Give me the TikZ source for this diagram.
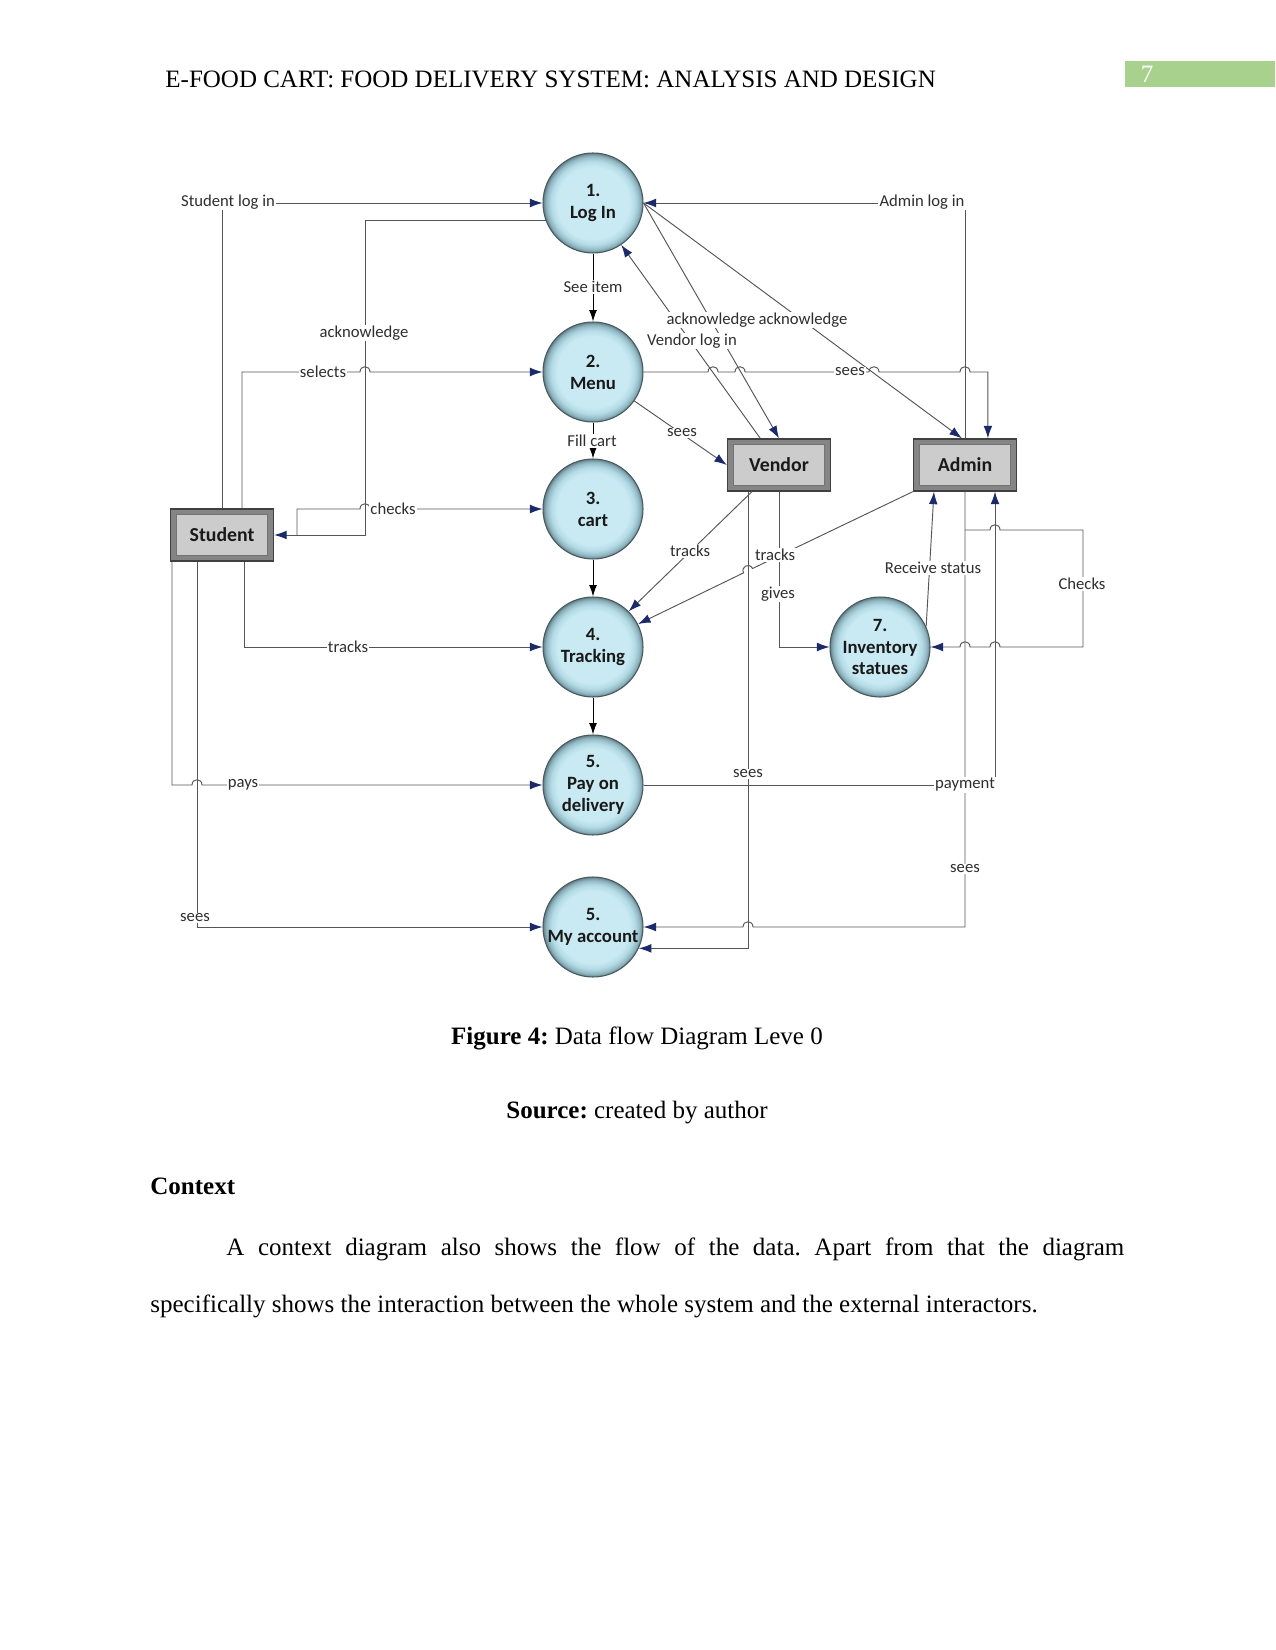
\documentclass[tikz,border=0pt]{standalone}
\usepackage{fontspec}
\setmainfont{Liberation Serif}
\newfontfamily\calfont{Carlito}
\usetikzlibrary{arrows.meta,calc}
\frenchspacing
\definecolor{tipblue}{HTML}{1B2A6B}
\definecolor{linegray}{HTML}{555555}
\definecolor{txtgray}{HTML}{2E2E2E}
\definecolor{bubA}{HTML}{C9EAF2}
\definecolor{bubB}{HTML}{B3DBE6}
\definecolor{bubC}{HTML}{8FB5C0}
\definecolor{bubD}{HTML}{647F88}
\definecolor{pagegreen}{HTML}{A9D18E}
\pgfdeclareradialshading{bubble}{\pgfpoint{0bp}{0bp}}{color(0bp)=(bubA); color(18bp)=(bubA); color(21bp)=(bubB); color(23.5bp)=(bubC); color(25bp)=(bubD); color(50bp)=(bubD)}
\tikzset{
  proc/.style={circle, minimum size=48pt, inner sep=0pt, shading=bubble, draw=bubD!70!black, line width=0.5pt, align=center, font=\calfont\bfseries\fontsize{9}{10.5}\selectfont, text=black!90},
  ent/.style={rectangle, minimum width=49.5pt, minimum height=25pt, inner sep=0pt, fill=black!48, draw=black!75, line width=0.6pt, font=\calfont\bfseries\fontsize{9.5}{11}\selectfont, text=black!90,
    path picture={\fill[black!20] ([shift={(2.8pt,2.8pt)}]path picture bounding box.south west) rectangle ([shift={(-2.8pt,-2.8pt)}]path picture bounding box.north east);
      \draw[black!55,line width=0.4pt] ([shift={(2.8pt,2.8pt)}]path picture bounding box.south west) rectangle ([shift={(-2.8pt,-2.8pt)}]path picture bounding box.north east);}},
  flow/.style={draw=linegray, line width=0.45pt, -{Latex[length=6pt,width=4.2pt,color=tipblue]}},
  bflow/.style={draw=black, line width=0.45pt, -{Latex[length=5.5pt,width=3.8pt,color=black]}},
  lab/.style={fill=white, inner sep=0.6pt, font=\calfont\fontsize{8}{9}\selectfont, text=txtgray},
  body/.style={font=\fontsize{12}{14}\selectfont, inner sep=0pt},
}
\begin{document}
\begin{tikzpicture}[x=0.48pt, y=-0.48pt]
\useasboundingbox (0,0) rectangle (1275,1650);
\fill[white] (0,0) rectangle (1275,1650);

% header
\node[body, anchor=base west] (hdr) at (165,88) {E-FOOD CART: FOOD DELIVERY SYSTEM: ANALYSIS AND DESIGN};
\fill[pagegreen] (1125,61) rectangle (1275,87);
\node[body, text=white] (pnum) at (1147,74) {7};

% processes
\node[proc] (login) at (593,203) {1.\\Log In};
\node[proc] (menu) at (593,372) {2.\\Menu};
\node[proc] (cart) at (593,509) {3.\\cart};
\node[proc] (track) at (593,647) {4.\\Tracking};
\node[proc] (pay) at (593,785) {5.\\Pay on\\delivery};
\node[proc] (acct) at (593,927) {5.\\My account};
\node[proc] (inv) at (880,647) {7.\\Inventory\\statues};

% entities
\node[ent] (student) at (222,535) {Student};
\node[ent] (vendor) at (779,465) {Vendor};
\node[ent] (admin) at (965,465) {Admin};

% helper coordinates
\coordinate (chk) at (297,535);
\coordinate (ck) at (965,530);

% student flows
\draw[flow] (student.north) |- (login.west);
\draw[flow] (login.200) -| (365,535) -- (student.east);
\draw[flow] ([xshift=9.6pt]student.north) |- (360,372) .. controls (360,365) and (370,365) .. (370,372) -- (menu.west);
\draw[flow] (chk) |- (360,509) .. controls (360,502) and (370,502) .. (370,509) -- (cart.west);
\draw[flow] ([xshift=10.6pt]student.south) |- (track.west);
\draw[flow] ([xshift=-24pt]student.south) |- (192,785) .. controls (192,778) and (202,778) .. (202,785) -- (pay.west);
\draw[flow] ([xshift=-12pt]student.south) |- (acct.west);

% vertical chain
\draw[bflow] (login.south) -- (menu.north);
\draw[bflow] (menu.south) -- (cart.north);
\draw[bflow] (cart.south) -- (track.north);
\draw[bflow] (track.south) -- (pay.north);

% admin / vendor with login
\draw[flow] (admin.north) |- (login.east);
\draw[flow] ([xshift=-9pt]vendor.north) -- (login.-56);
\draw[flow] (login.east) -- (vendor.north);
\draw[flow] (login.east) -- ([xshift=-1.5pt]admin.north);

% menu sees admin
\draw[flow] (menu.east) -- (708,372) .. controls (708,365) and (718,365) .. (718,372)
  -- (735,372) .. controls (735,365) and (745,365) .. (745,372)
  -- (869,372) .. controls (869,365) and (879,365) .. (879,372)
  -- (960,372) .. controls (960,365) and (970,365) .. (970,372)
  -| ([xshift=11pt]admin.north);
\draw[flow] (menu.-35) -- (vendor.west);

% tracking
\draw[flow] ([xshift=-13pt]vendor.south) -- (track.45);
\draw[flow] (admin.south west) -- (752.5,568.5) .. controls (749.5,562.2) and (740.5,566.6) .. (743.5,572.9) -- (track.27);

% vendor lower flows
\draw[flow] ([xshift=-14.9pt]vendor.south) |- (acct.-25);
\draw[flow] (vendor.south) |- (inv.west);

% admin lower flows
\draw[flow] (admin.south) -- (965,927) -- (753,927) .. controls (753,920) and (743,920) .. (743,927) -- (acct.east);
\draw[flow] (inv.24) -- ([xshift=-14.9pt]admin.south);
\draw[flow] (pay.east) -| ([xshift=14.4pt]admin.south);
\draw[flow] (ck) -- (990,530) .. controls (990,523) and (1000,523) .. (1000,530) -- (1083,530) -- (1083,647)
  -- (1000,647) .. controls (1000,640) and (990,640) .. (990,647)
  -- (970,647) .. controls (970,640) and (960,640) .. (960,647) -- (inv.east);

% labels
\node[lab] (l1) at (228,202) {Student log in};
\node[lab] (l2) at (364,333) {acknowledge};
\node[lab] (l3) at (323,372) {selects};
\node[lab] (l4) at (393,509) {checks};
\node[lab] (l5) at (348,647) {tracks};
\node[lab] (l6) at (243,785) {pays};
\node[lab] (l7) at (195,918) {sees};
\node[lab] (l8) at (593,287) {See item};
\node[lab] (l9) at (592,441) {Fill cart};
\node[lab] (l10) at (922,202) {Admin log in};
\node[lab] (l11) at (711,320) {acknowledge};
\node[lab] (l12) at (803,320) {acknowledge};
\node[lab] (l13) at (692,341) {Vendor log in};
\node[lab] (l14) at (850,372) {sees};
\node[lab] (l15) at (682,433) {sees};
\node[lab] (l16) at (690,551) {tracks};
\node[lab] (l17) at (775,555) {tracks};
\node[lab] (l18) at (778,594) {gives};
\node[lab] (l19) at (933,568) {Receive status};
\node[lab] (l20) at (1082,584) {Checks};
\node[lab] (l21) at (748,774) {sees};
\node[lab] (l22) at (965,785) {payment};
\node[lab] (l23) at (965,869) {sees};

% caption and text
\node[body, anchor=base] (cap) at (637,1044) {\textbf{Figure 4:} Data flow Diagram Leve 0};
\node[body, anchor=base] (src) at (637,1118) {\textbf{Source:} created by author};
\node[body, anchor=base west] (ctx) at (150,1194) {\textbf{Context}};
\node[body, anchor=base west] (p1) at (226,1255) {\makebox[431pt][s]{A context diagram also shows the flow of the data. Apart from that the diagram}};
\node[body, anchor=base west] (p2) at (150,1312) {specifically shows the interaction between the whole system and the external interactors.};
\end{tikzpicture}
\end{document}
